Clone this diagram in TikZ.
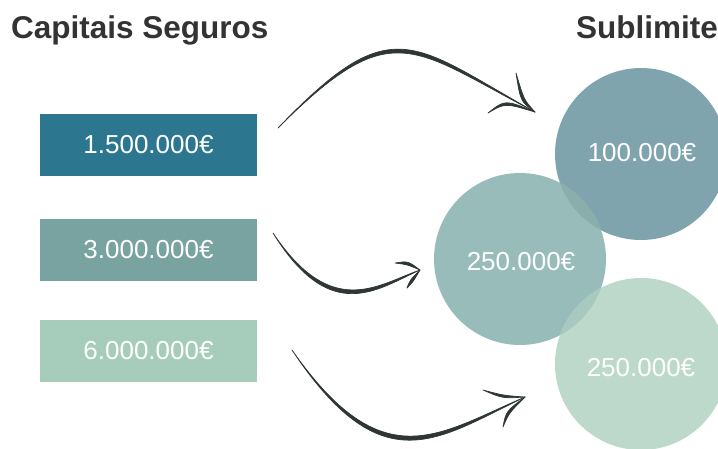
\documentclass[tikz,border=0pt]{standalone}
\usepackage{fontspec}
\setmainfont{Liberation Sans}
\definecolor{boxA}{HTML}{2C778F}
\definecolor{boxB}{HTML}{78A3A0}
\definecolor{boxC}{HTML}{A6CDBB}
\definecolor{circA}{HTML}{7FA4AE}
\definecolor{circB}{HTML}{98BCBA}
\definecolor{circC}{HTML}{BCD9CC}
\definecolor{ovAB}{HTML}{89AEAC}
\definecolor{ovBC}{HTML}{A7C9BF}
\definecolor{inkgray}{HTML}{2F3636}
\definecolor{titlegray}{HTML}{333333}
\begin{document}
\begin{tikzpicture}[x=1pt,y=-1pt,
  valbox/.style={rectangle, minimum width=217pt, minimum height=62pt, inner sep=0pt,
    text=white, font=\fontsize{26}{30}\selectfont},
  bubble/.style={circle, minimum size=172pt, inner sep=0pt,
    text=white, font=\fontsize{26}{30}\selectfont},
  heading/.style={font=\fontsize{31.5}{36}\selectfont\bfseries, text=titlegray, inner sep=0pt},
  brush/.style={fill=inkgray, draw=inkgray, line width=0.7pt, line join=round, line cap=round}]
\useasboundingbox (0,0) rectangle (718,448);
\clip (0,0) rectangle (718,448);

% headings
\node[heading, anchor=base west] (h1) at (11,38.3) {Capitais Seguros};
\node[heading, anchor=base east] (h2) at (718,38.3) {Sublimite};

% boxes
\node[valbox, fill=boxA] (b1) at (148.5,144.5) {1.500.000€};
\node[valbox, fill=boxB] (b2) at (148.5,250) {3.000.000€};
\node[valbox, fill=boxC] (b3) at (148.5,351) {6.000.000€};

% circles
\node[bubble, fill=circA] (c1) at (641,154) {};
\node[bubble, fill=circB] (c2) at (520,259) {};
\node[bubble, fill=circC] (c3) at (641,364) {};
\begin{scope}
  \clip (c1.center) circle[radius=86];
  \fill[ovAB] (c2.center) circle[radius=86];
\end{scope}
\begin{scope}
  \clip (c3.center) circle[radius=86];
  \fill[ovBC] (c2.center) circle[radius=86];
\end{scope}
\node[text=white, font=\fontsize{26}{30}\selectfont] (l1) at (642,153) {100.000€};
\node[text=white, font=\fontsize{26}{30}\selectfont] (l2) at (521,262) {250.000€};
\node[text=white, font=\fontsize{26}{30}\selectfont] (l3) at (641,368) {250.000€};

% arrow 1
\coordinate (a1s) at (278,128);
\coordinate (a1t) at (535,112);
\fill[brush] (a1s) .. controls (392,14) and (411,47.5) .. (a1t)
  .. controls (411,42.5) and (392,9) .. (a1s) -- cycle;
\fill[brush] (516,73) .. controls (520.5,101.5) .. (a1t)
  .. controls (524,100) .. (516,73) -- cycle;
\fill[brush] (488,113) .. controls (505,103) .. (a1t)
  .. controls (505,99.5) .. (488,113) -- cycle;

% arrow 2
\coordinate (a2s) at (273,233);
\coordinate (a2t) at (420,270);
\fill[brush] (a2s) .. controls (332,321) and (378,284.5) .. (a2t)
  .. controls (377,289.4) and (330.5,326) .. (a2s) -- cycle;
\fill[brush] (395,263) .. controls (408,261) .. (a2t)
  .. controls (407,264.5) .. (395,263) -- cycle;
\fill[brush] (407,288) .. controls (410,280) .. (a2t)
  .. controls (413,282) .. (407,288) -- cycle;

% arrow 3
\coordinate (a3s) at (292,350);
\coordinate (a3t) at (525,397);
\fill[brush] (a3s) .. controls (383,480) and (438,434) .. (a3t)
  .. controls (437,439.4) and (382,485.4) .. (a3s) -- cycle;
\fill[brush] (483,390) .. controls (502.7,398.5) .. (a3t)
  .. controls (503.5,395.5) .. (483,390) -- cycle;
\fill[brush] (503,427) .. controls (506,411.3) .. (a3t)
  .. controls (509,413) .. (503,427) -- cycle;
\end{tikzpicture}
\end{document}
